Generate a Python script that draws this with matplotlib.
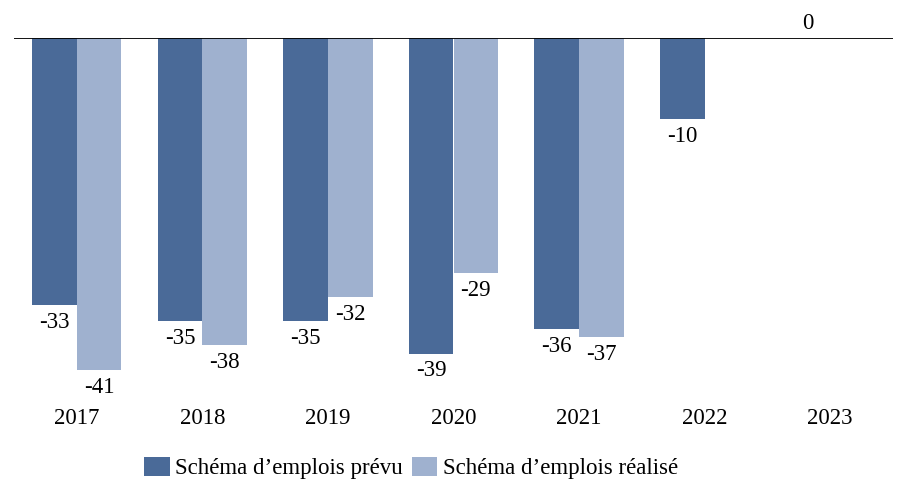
import matplotlib.pyplot as plt
import numpy as np

plt.rcParams['font.family'] = ['Liberation Serif', 'DejaVu Serif']

years = ['2017', '2018', '2019', '2020', '2021', '2022', '2023']
prevu = [-33, -35, -35, -39, -36, -10, 0]
realise = [-41, -38, -32, -29, -37, None, None]

dark = '#4a6a98'
light = '#9fb1cf'
fs = 16.5

fig = plt.figure(figsize=(9.08, 5.01), dpi=100)
ax = fig.add_axes([14 / 908, 1 - 394 / 501, 879 / 908, 356 / 501])

x = np.arange(len(years))
w = 0.355

ax.bar(x - w / 2, prevu, w, color=dark, label='Schéma d’emplois prévu')
xr = [xi + w / 2 for xi, v in zip(x, realise) if v is not None]
vr = [v for v in realise if v is not None]
ax.bar(xr, vr, w, color=light, label='Schéma d’emplois réalisé')

for xi, v in zip(x - w / 2, prevu):
    if v < 0:
        ax.annotate(str(v), (xi, v), xytext=(0, -5), textcoords='offset points',
                    ha='center', va='top', fontsize=fs, annotation_clip=False)
    else:
        ax.annotate(str(v), (xi, v), xytext=(0, 3), textcoords='offset points',
                    ha='center', va='bottom', fontsize=fs, annotation_clip=False)
for xi, v in zip(xr, vr):
    ax.annotate(str(v), (xi, v), xytext=(0, -5), textcoords='offset points',
                ha='center', va='top', fontsize=fs, annotation_clip=False)

ax.axhline(0, color='black', lw=1.3, zorder=5)
ax.set_xlim(-0.5, len(years) - 0.5)
ax.set_ylim(-44, 0)
ax.set_xticks(x)
ax.set_xticklabels(years, fontsize=fs)
ax.tick_params(axis='x', length=0, pad=10)
ax.set_yticks([])
for s in ax.spines.values():
    s.set_visible(False)

fig.legend(loc='center', bbox_to_anchor=(0.453, 0.066), ncol=2, frameon=False,
           fontsize=fs, handlelength=1.1, handleheight=0.9, handletextpad=0.25,
           columnspacing=0.4)

fig.savefig('out.png', dpi=100)
